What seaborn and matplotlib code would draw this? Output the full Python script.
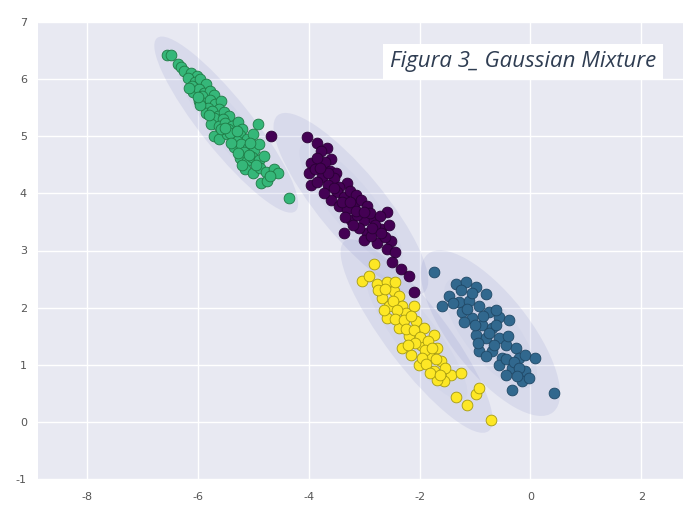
import numpy as np
import pandas as pd
import matplotlib
matplotlib.use("Agg")
import matplotlib.pyplot as plt
from matplotlib.patches import Ellipse
import seaborn as sns

# ---- data ----
green_x = [-6.56, -6.48, -6.36, -6.30, -6.25, -6.12, -6.02, -6.18, -6.05, -5.95, -5.85, -6.10,
           -6.08, -5.98, -5.88, -5.78, -5.70, -5.92, -5.98, -5.88, -5.78, -5.68, -5.58, -5.82, -5.62,
           -5.85, -5.74, -5.64, -5.52, -5.44, -5.70, -5.55, -5.76, -5.62, -5.50, -5.38, -5.28, -5.45,
           -5.20, -4.92, -5.70, -5.62, -5.48, -5.36, -5.24, -5.12, -5.00, -5.30, -5.35, -5.22, -5.10,
           -4.98, -4.90, -5.16, -5.24, -5.12, -5.02, -4.90, -4.80, -5.14, -5.00, -4.88, -4.76, -4.62,
           -4.55, -4.86, -4.75, -4.35,
           -6.15, -5.95, -5.80, -5.58, -5.42, -5.30, -5.40, -5.05, -5.28, -5.08, -4.95, -4.70,
           -5.20, -6.00, -5.50]
green_y = [6.43, 6.42, 6.27, 6.22, 6.15, 6.10, 6.05, 6.02, 5.95, 6.00, 5.92, 5.88,
           5.78, 5.82, 5.75, 5.80, 5.72, 5.70, 5.62, 5.58, 5.64, 5.56, 5.62, 5.50, 5.48,
           5.40, 5.44, 5.36, 5.42, 5.35, 5.32, 5.30, 5.22, 5.18, 5.24, 5.18, 5.25, 5.12,
           5.12, 5.22, 5.00, 4.96, 5.04, 4.98, 5.02, 4.96, 5.04, 4.92, 4.82, 4.86, 4.80,
           4.76, 4.86, 4.72, 4.62, 4.56, 4.64, 4.58, 4.66, 4.42, 4.36, 4.44, 4.38, 4.42,
           4.35, 4.18, 4.22, 3.92,
           5.85, 5.55, 5.38, 5.12, 5.05, 5.10, 4.88, 4.88, 4.70, 4.68, 4.50, 4.30,
           4.50, 5.68, 5.15]

purple_x = [-4.67, -4.03, -3.85, -3.67, -3.78, -3.59, -3.95, -3.70, -3.85, -3.99, -3.88, -3.62,
            -3.50, -3.95, -3.76, -3.54, -3.31, -3.85, -3.65, -3.45, -3.49, -3.59, -3.36, -3.72,
            -3.25, -3.15, -3.18, -3.05, -3.45, -3.30, -2.95, -3.23, -3.00, -2.82, -2.59, -3.12,
            -2.90, -2.72, -3.35, -2.69, -2.95, -3.36, -3.10, -2.80, -2.55, -3.00, -2.77, -2.51,
            -2.88, -2.62, -2.59, -2.45, -2.50, -2.33, -2.19, -2.10,
            -3.55, -3.40, -3.25, -3.15, -3.00, -2.85, -3.20, -2.70, -3.65, -3.80]
purple_y = [5.01, 4.98, 4.89, 4.79, 4.74, 4.61, 4.53, 4.55, 4.62, 4.35, 4.42, 4.40,
            4.36, 4.15, 4.28, 4.27, 4.18, 4.20, 4.15, 4.12, 4.02, 3.89, 3.94, 4.00,
            4.05, 3.98, 3.80, 3.89, 3.78, 3.72, 3.78, 3.54, 3.54, 3.54, 3.68, 3.62,
            3.66, 3.60, 3.58, 3.37, 3.31, 3.31, 3.40, 3.44, 3.45, 3.19, 3.14, 3.16,
            3.25, 3.24, 3.02, 2.98, 2.80, 2.67, 2.55, 2.28,
            4.10, 3.85, 3.85, 3.70, 3.68, 3.40, 3.45, 3.30, 4.35, 4.45]

yellow_x = [-2.82, -3.04, -2.91, -2.77, -2.59, -2.46, -2.68, -2.37, -2.55, -2.32, -2.59, -2.24,
            -2.10, -2.37, -2.06, -1.92, -1.74, -2.19, -2.32, -1.97, -1.69, -2.15, -1.83, -2.01,
            -1.62, -1.74, -1.44, -1.26, -1.56, -1.68, -1.35, -1.15, -0.99, -0.93, -0.72,
            -2.75, -2.62, -2.48, -2.40, -2.45, -2.28, -2.15, -2.25, -2.10, -2.00, -1.85, -2.08,
            -1.90, -1.78, -1.95, -1.70, -1.88, -1.55, -1.82, -1.64, -2.45, -2.65, -2.20]
yellow_y = [2.76, 2.47, 2.55, 2.42, 2.45, 2.29, 2.16, 2.21, 2.02, 2.03, 1.81, 1.90,
            2.02, 1.64, 1.76, 1.64, 1.52, 1.50, 1.29, 1.34, 1.29, 1.17, 1.17, 1.00,
            1.07, 0.89, 0.82, 0.86, 0.72, 0.74, 0.43, 0.30, 0.48, 0.60, 0.04,
            2.30, 2.32, 2.12, 1.95, 1.80, 1.78, 1.85, 1.62, 1.60, 1.48, 1.42, 1.38,
            1.25, 1.30, 1.12, 1.10, 1.02, 0.95, 0.85, 0.82, 2.45, 1.95, 1.35]

blue_x = [-1.74, -1.35, -1.17, -0.99, -0.81, -1.47, -1.60, -1.29, -1.11, -0.93, -1.24, -0.75,
          -0.57, -0.39, -1.06, -0.88, -0.70, -0.99, -0.81, -0.57, -0.45, -0.27, -0.93, -0.70,
          -0.52, -0.21, -0.09, 0.09, -0.57, -0.34, -0.09, -0.16, -0.34, -0.03, 0.42,
          -1.25, -1.05, -1.40, -1.15, -0.85, -1.00, -0.75, -0.62, -0.95, -0.65, -0.40, -0.80,
          -0.45, -0.30, -0.20, -0.45, -0.25, -1.20, -0.62]
blue_y = [2.62, 2.42, 2.45, 2.36, 2.24, 2.21, 2.03, 2.10, 2.12, 2.03, 1.93, 1.93,
          1.84, 1.78, 1.81, 1.69, 1.64, 1.52, 1.46, 1.46, 1.34, 1.29, 1.24, 1.24,
          1.12, 1.12, 1.17, 1.12, 1.00, 0.94, 0.89, 0.72, 0.56, 0.77, 0.51,
          2.30, 2.25, 2.08, 1.98, 1.85, 1.70, 1.55, 1.70, 1.38, 1.35, 1.50, 1.15,
          1.10, 1.05, 0.95, 0.82, 0.80, 1.75, 1.95]

cluster_ids = [0, 1, 2, 3]
cluster_x = [purple_x, blue_x, green_x, yellow_x]
cluster_y = [purple_y, blue_y, green_y, yellow_y]
cluster_colors = ["#440154", "#31688e", "#35b779", "#fde725"]
edge_colors = ["#2a0035", "#1f4866", "#1f7a45", "#a59a10"]

x_ticks = [-8, -6, -4, -2, 0, 2]
y_ticks = [-1, 0, 1, 2, 3, 4, 5, 6, 7]
title_text = "Figura 3_ Gaussian Mixture"

# ---- figure ----
sns.set_theme(style="darkgrid")
fig = plt.figure(figsize=(6.84, 5.07), dpi=100)
ax = fig.add_axes([38 / 684, 1 - 479 / 507, 645 / 684, 457 / 507])
ax.set_facecolor("#e8e9f2")

rows = []
for cid, xs, ys in zip(cluster_ids, cluster_x, cluster_y):
    for xv, yv in zip(xs, ys):
        rows.append({"x": xv, "y": yv, "label": cid})
df = pd.DataFrame(rows)

# Gaussian ellipses (1, 2, 3 sigma) computed from each cluster's points
for xs, ys in zip(cluster_x, cluster_y):
    pts = np.column_stack([xs, ys])
    mu = pts.mean(axis=0)
    cov = np.cov(pts.T)
    vals, vecs = np.linalg.eigh(cov)
    order = vals.argsort()[::-1]
    vals, vecs = vals[order], vecs[:, order]
    angle = np.degrees(np.arctan2(vecs[1, 0], vecs[0, 0]))
    w, h = 2 * np.sqrt(vals)
    for nsig, a in zip([3, 2, 1], [0.13, 0.04, 0.04]):
        ax.add_patch(Ellipse(mu, nsig * w * 0.88, nsig * h * 1.15, angle=angle,
                             facecolor="#7078c0", edgecolor="none", alpha=a, zorder=1))

for cid in cluster_ids:
    sub = df[df["label"] == cid]
    sns.scatterplot(data=sub, x="x", y="y", color=cluster_colors[cid], s=60,
                    edgecolor=edge_colors[cid], linewidth=0.6, ax=ax, zorder=2, legend=False)

ax.set_xlim(-8.88, 2.75)
ax.set_ylim(-1.0, 6.95)
ax.set_xticks(x_ticks)
ax.set_yticks(y_ticks)
ax.set_xticklabels([str(t) for t in x_ticks])
ax.set_yticklabels([str(t) for t in y_ticks])
ax.tick_params(axis="both", labelsize=8, labelcolor="#555555", length=0)
ax.tick_params(axis="x", pad=9)
ax.tick_params(axis="y", pad=8)
ax.set_xlabel("")
ax.set_ylabel("")
for sp in ax.spines.values():
    sp.set_visible(False)

fig.text(390 / 684, 1 - 67 / 507, title_text, fontsize=16, style="italic",
         family=["Open Sans", "DejaVu Sans"], color="#2f3d52",
         bbox=dict(facecolor="white", edgecolor="none", pad=5))

fig.savefig("out.png", dpi=100)
